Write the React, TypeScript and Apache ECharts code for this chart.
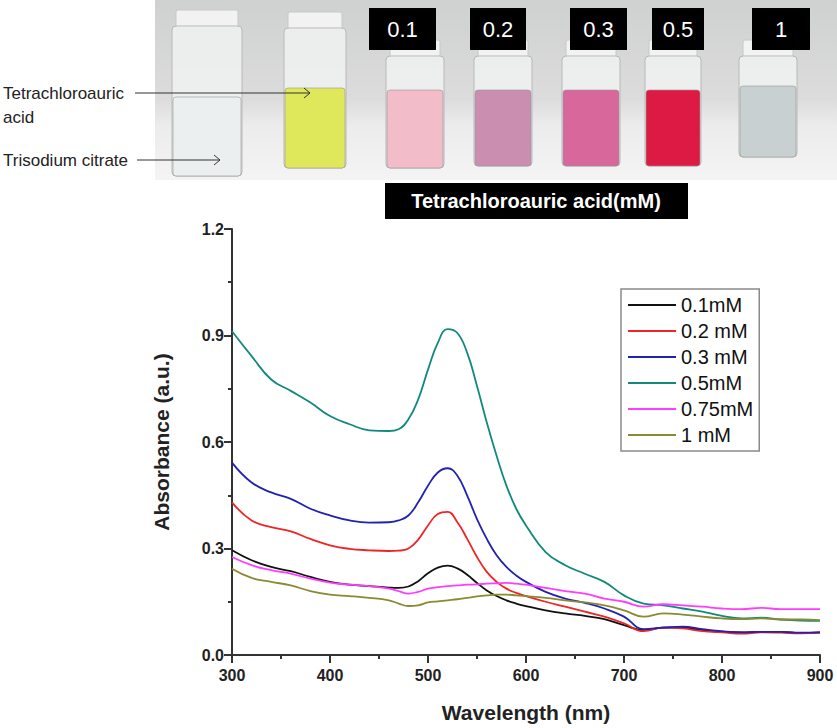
import React, { useEffect, useRef } from "react";
import * as echarts from "echarts";

const wavelengths = [300, 320, 340, 360, 380, 400, 420, 440, 460, 470, 480, 490, 500, 510, 520, 530, 540, 550, 560, 570, 580, 590, 600, 620, 640, 660, 680, 700, 720, 740, 760, 780, 800, 820, 840, 860, 880, 900];

const s01 = [0.295, 0.267, 0.248, 0.236, 0.220, 0.206, 0.198, 0.194, 0.190, 0.189, 0.193, 0.208, 0.230, 0.246, 0.252, 0.244, 0.226, 0.203, 0.182, 0.166, 0.154, 0.145, 0.138, 0.126, 0.117, 0.110, 0.101, 0.084, 0.070, 0.077, 0.077, 0.070, 0.065, 0.064, 0.065, 0.065, 0.062, 0.064];
const s02 = [0.430, 0.379, 0.360, 0.348, 0.327, 0.309, 0.299, 0.295, 0.293, 0.294, 0.300, 0.325, 0.365, 0.397, 0.403, 0.374, 0.327, 0.276, 0.234, 0.206, 0.187, 0.175, 0.166, 0.150, 0.136, 0.122, 0.108, 0.089, 0.067, 0.077, 0.075, 0.067, 0.064, 0.060, 0.064, 0.063, 0.061, 0.063];
const s03 = [0.542, 0.486, 0.458, 0.440, 0.412, 0.393, 0.379, 0.373, 0.374, 0.379, 0.393, 0.430, 0.477, 0.514, 0.526, 0.505, 0.449, 0.383, 0.327, 0.281, 0.248, 0.224, 0.206, 0.178, 0.159, 0.147, 0.131, 0.108, 0.073, 0.077, 0.080, 0.073, 0.067, 0.064, 0.065, 0.065, 0.063, 0.064];
const s05 = [0.912, 0.842, 0.776, 0.744, 0.711, 0.673, 0.650, 0.633, 0.631, 0.636, 0.664, 0.720, 0.804, 0.879, 0.918, 0.907, 0.851, 0.758, 0.655, 0.561, 0.477, 0.412, 0.365, 0.290, 0.253, 0.229, 0.206, 0.168, 0.145, 0.140, 0.131, 0.122, 0.110, 0.103, 0.105, 0.100, 0.097, 0.096];
const s075 = [0.276, 0.253, 0.239, 0.229, 0.215, 0.204, 0.198, 0.194, 0.187, 0.180, 0.173, 0.178, 0.187, 0.191, 0.194, 0.196, 0.198, 0.199, 0.201, 0.202, 0.203, 0.201, 0.198, 0.189, 0.180, 0.173, 0.159, 0.150, 0.136, 0.143, 0.140, 0.136, 0.131, 0.129, 0.133, 0.129, 0.129, 0.129];
const s1 = [0.243, 0.217, 0.206, 0.196, 0.180, 0.170, 0.166, 0.161, 0.154, 0.145, 0.138, 0.140, 0.148, 0.151, 0.154, 0.157, 0.161, 0.165, 0.168, 0.170, 0.170, 0.168, 0.166, 0.161, 0.154, 0.148, 0.140, 0.126, 0.108, 0.117, 0.114, 0.108, 0.103, 0.101, 0.103, 0.100, 0.100, 0.098];

const seriesNames = ["0.1mM", "0.2 mM", "0.3 mM", "0.5mM", "0.75mM", "1 mM"];
const seriesValues = [s01, s02, s03, s05, s075, s1];
const seriesColors = ["#111111", "#f02424", "#2222b0", "#108a7c", "#ff3cff", "#8a8a32"];

const vialLabels = ["0.1", "0.2", "0.3", "0.5", "1"];
const photoCaption = "Tetrachloroauric acid(mM)";

export default function App() {
  const ref = useRef<HTMLDivElement>(null);
  useEffect(() => {
    if (!ref.current) return;
    const chart = echarts.init(ref.current, undefined, { renderer: "svg" });

    const vials = [
      { x: 172, w: 70, top: 97, bot: 176, liquid: "rgba(235,238,240,0.9)", capTop: 10 },
      { x: 284, w: 62, top: 88, bot: 168, liquid: "#dfe85a", capTop: 12 },
      { x: 386, w: 58, top: 90, bot: 168, liquid: "#f2bcc8", capTop: 40 },
      { x: 474, w: 58, top: 90, bot: 166, liquid: "#c98eb0", capTop: 40 },
      { x: 562, w: 58, top: 90, bot: 166, liquid: "#d8689c", capTop: 40 },
      { x: 645, w: 56, top: 90, bot: 166, liquid: "#dc1a44", capTop: 40 },
      { x: 739, w: 58, top: 86, bot: 157, liquid: "#c9d0d2", capTop: 40 },
    ];
    const labelBoxes = [
      { x: 369, w: 67 },
      { x: 470, w: 56 },
      { x: 570, w: 57 },
      { x: 652, w: 52 },
      { x: 752, w: 58 },
    ];

    const graphics: any[] = [
      {
        type: "rect",
        shape: { x: 155, y: 0, width: 682, height: 180 },
        style: {
          fill: new echarts.graphic.LinearGradient(0, 0, 0, 1, [
            { offset: 0, color: "#cfd0d0" },
            { offset: 0.55, color: "#dcdcdc" },
            { offset: 0.7, color: "#ececec" },
            { offset: 1, color: "#f4f4f4" },
          ]),
        },
        z: 0,
      },
    ];
    vials.forEach((v) => {
      graphics.push({
        type: "rect",
        shape: { x: v.x + 4, y: v.capTop, width: v.w - 8, height: 18, r: 2 },
        style: { fill: "#f2f2f2", stroke: "#c8c8c8", lineWidth: 1 },
        z: 1,
      });
      graphics.push({
        type: "rect",
        shape: { x: v.x, y: v.capTop + 16, width: v.w, height: v.bot - v.capTop - 16, r: 4 },
        style: { fill: "rgba(240,242,242,0.85)", stroke: "#b8b8b8", lineWidth: 1 },
        z: 1,
      });
      graphics.push({
        type: "rect",
        shape: { x: v.x + 1, y: v.top, width: v.w - 2, height: v.bot - v.top, r: 3 },
        style: { fill: v.liquid, stroke: "rgba(150,150,150,0.6)", lineWidth: 1 },
        z: 2,
      });
    });
    labelBoxes.forEach((b, i) => {
      graphics.push({
        type: "rect",
        shape: { x: b.x, y: 8, width: b.w, height: 42 },
        style: { fill: "#000" },
        z: 3,
      });
      graphics.push({
        type: "text",
        x: b.x + b.w / 2,
        y: 29,
        style: {
          text: vialLabels[i],
          fill: "#fff",
          font: "22px 'Liberation Sans', sans-serif",
          align: "center",
          verticalAlign: "middle",
        },
        z: 4,
      });
    });
    graphics.push({
      type: "rect",
      shape: { x: 385, y: 183, width: 303, height: 36 },
      style: { fill: "#000" },
      z: 3,
    });
    graphics.push({
      type: "text",
      x: 536,
      y: 201,
      style: {
        text: photoCaption,
        fill: "#fff",
        font: "bold 20px 'Liberation Sans', sans-serif",
        align: "center",
        verticalAlign: "middle",
      },
      z: 4,
    });
    const sideFont = "17px 'Liberation Sans', sans-serif";
    graphics.push({
      type: "text", x: 3, y: 93,
      style: { text: "Tetrachloroauric", fill: "#222", font: sideFont, verticalAlign: "middle" }, z: 4,
    });
    graphics.push({
      type: "text", x: 3, y: 117,
      style: { text: "acid", fill: "#222", font: sideFont, verticalAlign: "middle" }, z: 4,
    });
    graphics.push({
      type: "text", x: 3, y: 160,
      style: { text: "Trisodium citrate", fill: "#222", font: sideFont, verticalAlign: "middle" }, z: 4,
    });
    graphics.push({
      type: "line", shape: { x1: 135, y1: 93, x2: 310, y2: 93 },
      style: { stroke: "#333", lineWidth: 1 }, z: 4,
    });
    graphics.push({
      type: "polyline", shape: { points: [[304, 88], [310, 93], [304, 98]] },
      style: { stroke: "#333", lineWidth: 1, fill: "none" }, z: 4,
    });
    graphics.push({
      type: "line", shape: { x1: 137, y1: 160, x2: 220, y2: 160 },
      style: { stroke: "#333", lineWidth: 1 }, z: 4,
    });
    graphics.push({
      type: "polyline", shape: { points: [[214, 155], [220, 160], [214, 165]] },
      style: { stroke: "#333", lineWidth: 1, fill: "none" }, z: 4,
    });

    const axisFont = "'Liberation Sans', Arial, sans-serif";

    chart.setOption({
      animation: false,
      backgroundColor: "#ffffff",
      graphic: { elements: graphics },
      grid: { left: 232, right: 17, top: 229, bottom: 72, containLabel: false },
      legend: {
        orient: "vertical",
        left: 621,
        top: 289,
        padding: [6, 6, 6, 7],
        itemGap: 6,
        itemWidth: 48,
        itemHeight: 2,
        icon: "rect",
        borderColor: "#8a8a8a",
        borderWidth: 1.5,
        textStyle: { fontSize: 20, lineHeight: 20, color: "#111", fontFamily: "'Liberation Sans', Arial, sans-serif", padding: [0, 0, 0, 0] },
        data: seriesNames,
      },
      xAxis: {
        type: "value",
        min: 300,
        max: 900,
        interval: 100,
        name: "Wavelength (nm)",
        nameLocation: "middle",
        nameGap: 47,
        nameTextStyle: { fontSize: 21, fontWeight: "bold", fontFamily: axisFont, color: "#222" },
        axisLine: { show: true, onZero: false, lineStyle: { color: "#333", width: 2 } },
        axisTick: { show: true, inside: false, length: 8, lineStyle: { color: "#333", width: 2 } },
        minorTick: { show: true, splitNumber: 2, length: 4, lineStyle: { color: "#333", width: 2 } },
        axisLabel: { fontSize: 16, fontWeight: "bold", fontFamily: axisFont, color: "#222", margin: 12 },
        splitLine: { show: false },
      },
      yAxis: {
        type: "value",
        min: 0,
        max: 1.2,
        interval: 0.3,
        name: "Absorbance (a.u.)",
        nameLocation: "middle",
        nameGap: 60,
        nameTextStyle: { fontSize: 21, fontWeight: "bold", fontFamily: axisFont, color: "#222" },
        axisLine: { show: true, lineStyle: { color: "#333", width: 2 } },
        axisTick: { show: true, inside: false, length: 8, lineStyle: { color: "#333", width: 2 } },
        minorTick: { show: true, splitNumber: 2, length: 4, lineStyle: { color: "#333", width: 2 } },
        axisLabel: {
          fontSize: 16,
          fontWeight: "bold",
          fontFamily: axisFont,
          color: "#222",
          margin: 8,
          formatter: (v: number) => v.toFixed(1),
        },
        splitLine: { show: false },
      },
      series: seriesNames.map((name, i) => ({
        name,
        type: "line",
        smooth: 0.45,
        showSymbol: false,
        symbol: "none",
        data: wavelengths.map((w, j) => [w, seriesValues[i][j]]),
        lineStyle: { color: seriesColors[i], width: 1.8 },
        itemStyle: { color: seriesColors[i] },
      })),
    });
    return () => chart.dispose();
  }, []);
  return (
    <div
      ref={ref}
      style={{ position: "fixed", left: 0, top: 0, width: 837, height: 728 }}
    />
  );
}
